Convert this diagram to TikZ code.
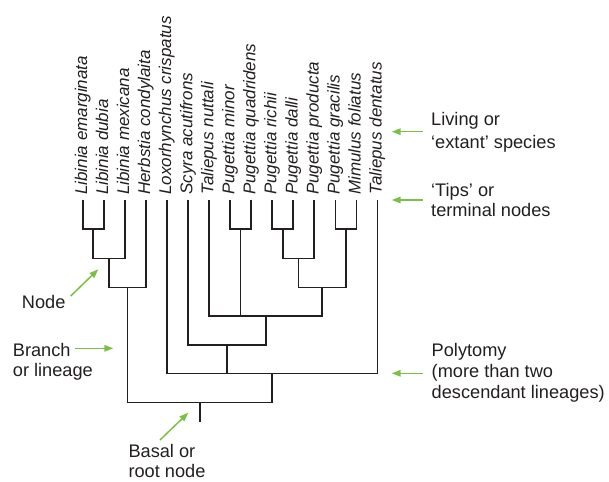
\documentclass[tikz,border=0pt]{standalone}
\usepackage{fontspec}
\setmainfont{Liberation Sans}
\usetikzlibrary{arrows.meta}
\definecolor{ink}{HTML}{231F20}
\definecolor{leaf}{HTML}{7AC143}
\tikzset{
  branch/.style={draw=ink, line width=1.6pt, line join=miter},
  species/.style={rotate=90, anchor=base west, inner sep=0pt, text=ink,
    font=\fontsize{17}{20}\selectfont\itshape},
  note/.style={anchor=base west, inner sep=0pt, text=ink,
    font=\fontsize{18.2}{21.5}\selectfont},
  pointer/.style={draw=leaf, line width=1.5pt,
    -{Triangle[length=9pt,width=6.5pt]}},
}
\begin{document}
\begin{tikzpicture}[x=1pt,y=-1pt]
\useasboundingbox (0,0) rectangle (609,481);
% tips
\foreach \i/\name in {0/Libinia emarginata,1/Libinia dubia,2/Libinia mexicana,
  3/Herbstia condylaita,4/Loxorhynchus crispatus,5/Scyra acutifrons,
  6/Taliepus nuttali,7/Pugettia minor,8/Pugettia quadridens,9/Pugettia richii,
  10/Pugettia dalli,11/Pugettia producta,12/Pugettia gracilis,
  13/Mimulus foliatus,14/Taliepus dentatus}{
  \coordinate (t\i) at ({82.7+21.05*\i},200);
  \node[species] (s\i) at ({87.0+21.05*\i},195) {\name};
}
% internal nodes
\coordinate (n1) at (93.2,229);
\coordinate (n2) at (109.0,258.3);
\coordinate (n3) at (127.4,287.3);
\coordinate (n4) at (240.6,229);
\coordinate (n5) at (282.7,229);
\coordinate (n6) at (298.5,258.3);
\coordinate (n7) at (345.8,229);
\coordinate (n8) at (322.2,287.3);
\coordinate (n9) at (265.7,316);
\coordinate (n10) at (227.0,345);
\coordinate (n11) at (272.2,373.3);
\coordinate (n12) at (199.8,402.3);
\coordinate (root) at (199.8,421.7);
% branches
\draw[branch] (t0) |- (n1) -| (t1);
\draw[branch] (n1) |- (n2) -| (t2);
\draw[branch] (n2) |- (n3) -| (t3);
\draw[branch] (t7) |- (n4) -| (t8);
\draw[branch] (t9) |- (n5) -| (t10);
\draw[branch] (n5) |- (n6) -| (t11);
\draw[branch] (t12) |- (n7) -| (t13);
\draw[branch] (n6) |- (n8) -| (n7);
\draw[branch] (t6) |- (n9) -| (n8);
\draw[branch] (n4) -- (n4 |- n9);
\draw[branch] (t5) |- (n10) -| (n9);
\draw[branch] (t4) |- (n11) -| (t14);
\draw[branch] (n10) -- (n10 |- n11);
\draw[branch] (n3) |- (n12) -| (n11);
\draw[branch] (n12) -- (root);
% right annotations
\node[note] (liv1) at (431,126) {Living or};
\node[note] (liv2) at (431,148) {‘extant’ species};
\node[note] (tip1) at (431,196) {‘Tips’ or};
\node[note] (tip2) at (431,216.7) {terminal nodes};
\node[note] (pol1) at (431.5,356) {Polytomy};
\node[note] (pol2) at (431.5,377.5) {(more than two};
\node[note] (pol3) at (431.5,398.5) {descendant lineages)};
% left / bottom annotations
\node[note] (nod) at (21.7,308.3) {Node};
\node[note] (br1) at (12.7,356) {Branch};
\node[note] (br2) at (12.7,376) {or lineage};
\node[note] (bas1) at (128.3,457.5) {Basal or};
\node[note] (bas2) at (128.3,477.5) {root node};
% pointers
\coordinate (pa1) at (422.7,131.7); \coordinate (pa2) at (391.7,131.7);
\coordinate (pb1) at (422.7,200);   \coordinate (pb2) at (391.7,200);
\coordinate (pc1) at (422.7,373.3); \coordinate (pc2) at (391.7,373.3);
\coordinate (pd1) at (70.7,296);    \coordinate (pd2) at (98.3,269.3);
\coordinate (pe1) at (75,348.3);    \coordinate (pe2) at (113.3,348.3);
\coordinate (pf1) at (160,440);     \coordinate (pf2) at (188.3,412.7);
\draw[pointer] (pa1) -- (pa2);
\draw[pointer] (pb1) -- (pb2);
\draw[pointer] (pc1) -- (pc2);
\draw[pointer] (pd1) -- (pd2);
\draw[pointer] (pe1) -- (pe2);
\draw[pointer] (pf1) -- (pf2);
\end{tikzpicture}
\end{document}
